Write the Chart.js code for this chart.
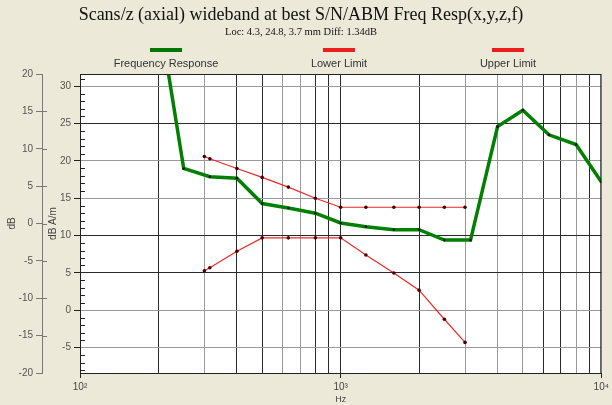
<!DOCTYPE html>
<html>
<head>
<meta charset="utf-8">
<script src="https://cdn.jsdelivr.net/npm/chart.js@4.4.0/dist/chart.umd.min.js"></script>
<style>
  html, body { margin: 0; padding: 0; background: #ece9d8; }
  #chart { display: block; }
</style>
</head>
<body>
<canvas id="chart" width="612" height="405"></canvas>
<script>
// values (Hz, dB A/m)
const respFreqs = [200, 250, 315, 400, 500, 630, 800, 1000, 1250, 1600, 2000, 2500, 3150, 4000, 5000, 6300, 8000, 10000];
const respValues = [40, 19.0, 17.9, 17.7, 14.3, 13.7, 13.0, 11.7, 11.2, 10.8, 10.8, 9.4, 9.4, 24.6, 26.8, 23.5, 22.2, 17.2];

const limitFreqs = [300, 315, 400, 500, 630, 800, 1000, 1250, 1600, 2000, 2500, 3000];
const lowerValues = [5.3, 5.7, 7.9, 9.7, 9.7, 9.7, 9.7, 7.4, 5.0, 2.7, -1.2, -4.3];
const upperValues = [20.6, 20.3, 19.0, 17.8, 16.5, 15.0, 13.8, 13.8, 13.8, 13.8, 13.8, 13.8];

const seriesNames = ["Frequency Response", "Lower Limit", "Upper Limit"];

// axes
const freqTicks = [100, 200, 300, 400, 500, 600, 700, 800, 900, 1000, 2000, 3000, 4000, 5000, 6000, 7000, 8000, 9000, 10000];
const decadeTicks = [100, 1000, 10000];
const decadeLabels = ["10\u00b2", "10\u00b3", "10\u2074"];
const innerTicks = [-5, 0, 5, 10, 15, 20, 25, 30];
const outerTicks = [-20, -15, -10, -5, 0, 5, 10, 15, 20];

const serif = "'Liberation Serif', 'Times New Roman', serif";
const sans = "'Liberation Sans', Arial, sans-serif";

// grid lines that look dark in the picture, the rest are grey
const darkFreqLines = [200, 400, 500, 800, 900, 1000, 2000, 6000, 7000, 9000];
const darkValueLines = [25, 10, 5];

const toPoints = (xs, ys) => xs.map((x, i) => ({ x: x, y: ys[i] }));

/**
 * white plot, frame, minor ticks and the legend (swatch above label)
 */
const decorPlugin = {
  id: "decor",
  beforeDraw(chart) {
    const { ctx, chartArea: a } = chart;
    ctx.save();
    ctx.fillStyle = "#ffffff";
    ctx.fillRect(a.left, a.top, a.right - a.left, a.bottom - a.top);
    ctx.restore();
  },
  afterDraw(chart) {
    const { ctx, chartArea: a } = chart;
    const y = chart.scales.y;
    const y2 = chart.scales.y2;
    ctx.save();
    ctx.strokeStyle = "#222";
    ctx.lineWidth = 1;
    ctx.strokeRect(a.left + 0.5, a.top + 0.5, a.right - a.left - 1, a.bottom - a.top);

    // minor ticks on the inner axis, inside the plot
    ctx.beginPath();
    for (let v = Math.ceil(y.min); v <= y.max; v++) {
      const py = Math.round(y.getPixelForValue(v)) + 0.5;
      ctx.moveTo(a.left, py);
      ctx.lineTo(a.left + (v % 5 === 0 ? 0 : 5), py);
    }
    ctx.stroke();

    // outer axis ticks cross the line
    ctx.strokeStyle = "#777";
    ctx.beginPath();
    for (const t of outerTicks.slice(1, -1)) {
      const py = Math.round(y2.getPixelForValue(t)) + 0.5;
      ctx.moveTo(y2.right, py);
      ctx.lineTo(y2.right + 5, py);
    }
    ctx.stroke();

    // legend
    const centers = [166, 339, 508];
    ctx.font = "11px " + sans;
    ctx.textAlign = "center";
    ctx.textBaseline = "middle";
    chart.data.datasets.forEach((ds, i) => {
      ctx.fillStyle = ds.legendColor;
      ctx.fillRect(centers[i] - 16, 48, 32, 4);
      ctx.fillStyle = "#333";
      ctx.fillText(ds.label, centers[i], 64);
    });
    ctx.restore();
  },
};

const ctx = document.getElementById("chart").getContext("2d");
new Chart(ctx, {
  type: "line",
  data: {
    datasets: [
      {
        label: seriesNames[0],
        data: toPoints(respFreqs, respValues),
        borderColor: "rgb(0,128,0)",
        legendColor: "rgb(0,120,0)",
        borderWidth: 3.5,
        pointRadius: 1.3,
        pointBackgroundColor: "#111",
        pointBorderWidth: 0,
      },
      {
        label: seriesNames[1],
        data: toPoints(limitFreqs, lowerValues),
        borderColor: "rgb(240,40,40)",
        legendColor: "rgb(235,30,30)",
        borderWidth: 1.2,
        pointRadius: 1.8,
        pointBackgroundColor: "#400",
        pointBorderWidth: 0,
      },
      {
        label: seriesNames[2],
        data: toPoints(limitFreqs, upperValues),
        borderColor: "rgb(240,40,40)",
        legendColor: "rgb(235,30,30)",
        borderWidth: 1.2,
        pointRadius: 1.8,
        pointBackgroundColor: "#400",
        pointBorderWidth: 0,
      },
    ],
  },
  options: {
    responsive: false,
    animation: false,
    devicePixelRatio: 1,
    layout: { padding: { left: 0, right: 10, top: 0, bottom: 0 } },
    elements: { line: { tension: 0 } },
    plugins: {
      legend: { display: false },
      tooltip: { enabled: false },
      title: {
        display: true,
        text: "Scans/z (axial) wideband at best S/N/ABM Freq Resp(x,y,z,f)",
        color: "#111",
        font: { family: serif, size: 18, weight: "normal" },
        padding: { top: 4, bottom: 0 },
      },
      subtitle: {
        display: true,
        text: "Loc: 4.3, 24.8, 3.7 mm Diff: 1.34dB",
        color: "#111",
        font: { family: serif, size: 10.5 },
        padding: { top: 0, bottom: 35.8 },
      },
    },
    scales: {
      x: {
        type: "logarithmic",
        min: 100,
        max: 10000,
        afterBuildTicks: (scale) => {
          scale.ticks = freqTicks.map((v) => ({ value: v }));
        },
        afterFit: (scale) => {
          scale.height = 32;
        },
        ticks: {
          autoSkip: false,
          maxRotation: 0,
          padding: 3,
          color: "#444",
          font: { family: sans, size: 10 },
          callback: (value) => {
            const i = decadeTicks.indexOf(value);
            return i >= 0 ? decadeLabels[i] : "";
          },
        },
        grid: {
          color: (c) => (darkFreqLines.includes(c.tick.value) ? "#2a2a2a" : "#9a9a9a"),
          tickColor: (c) => (decadeTicks.includes(c.tick.value) ? "#222" : "rgba(0,0,0,0)"),
          tickLength: 5,
        },
        border: { color: "#222" },
        title: {
          display: true,
          text: "Hz",
          color: "#444",
          font: { family: sans, size: 9 },
          padding: { top: 0, bottom: 0 },
        },
      },
      y: {
        position: "left",
        weight: 0,
        min: -8.4,
        max: 31.65,
        afterBuildTicks: (scale) => {
          scale.ticks = innerTicks.map((v) => ({ value: v }));
        },
        afterFit: (scale) => {
          scale.width = 38;
        },
        ticks: {
          autoSkip: false,
          padding: 3,
          color: "#555",
          font: { family: sans, size: 10 },
        },
        grid: {
          color: (c) => (darkValueLines.includes(c.tick.value) ? "#2a2a2a" : "#9a9a9a"),
          tickColor: "#222",
          tickLength: 6,
        },
        border: { color: "#222" },
        title: {
          display: true,
          text: "dB A/m",
          color: "#444",
          font: { family: sans, size: 10 },
          padding: { top: 5, bottom: 5 },
        },
      },
      y2: {
        position: "left",
        weight: 1,
        min: -20,
        max: 20,
        afterBuildTicks: (scale) => {
          scale.ticks = outerTicks.map((v) => ({ value: v }));
        },
        afterFit: (scale) => {
          scale.width = 42;
        },
        ticks: {
          autoSkip: false,
          padding: 3,
          color: "#555",
          font: { family: sans, size: 10 },
        },
        grid: {
          drawOnChartArea: false,
          color: "#777",
          tickLength: 6,
        },
        border: { color: "#777" },
        title: {
          display: true,
          text: "dB",
          color: "#444",
          font: { family: sans, size: 10 },
          padding: { top: 6, bottom: 6 },
        },
      },
    },
  },
  plugins: [decorPlugin],
});
</script>
</body>
</html>
